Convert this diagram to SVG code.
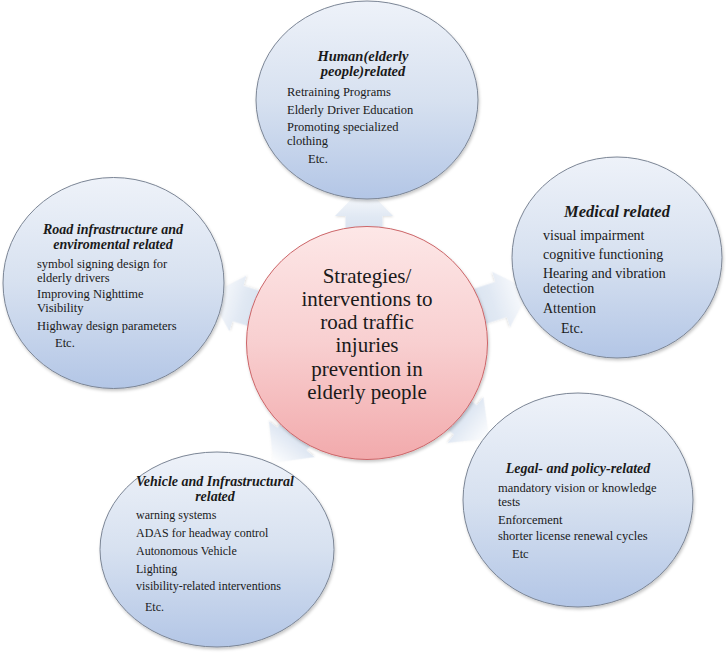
<svg xmlns="http://www.w3.org/2000/svg" width="726" height="654" viewBox="0 0 726 654">
<defs>
<linearGradient id="gBlue" x1="0" y1="0" x2="0" y2="1">
<stop offset="0" stop-color="#eef2f9"/>
<stop offset="0.5" stop-color="#d7e1f0"/>
<stop offset="1" stop-color="#b3c6e6"/>
</linearGradient>
<linearGradient id="gPink" x1="0" y1="0" x2="0" y2="1">
<stop offset="0" stop-color="#fde7e7"/>
<stop offset="0.5" stop-color="#f8cfd0"/>
<stop offset="1" stop-color="#f2aaac"/>
</linearGradient>
<linearGradient id="gArrow" x1="0" y1="1" x2="0" y2="0">
<stop offset="0" stop-color="#d5dfee"/>
<stop offset="0.45" stop-color="#e0e8f3"/>
<stop offset="1" stop-color="#ffffff"/>
</linearGradient>
<filter id="sh" x="-10%" y="-10%" width="125%" height="125%">
<feDropShadow dx="1" dy="2" stdDeviation="1.5" flood-color="#000" flood-opacity="0.22"/>
</filter>
<filter id="shA" x="-20%" y="-20%" width="140%" height="140%">
<feDropShadow dx="0.5" dy="1" stdDeviation="1" flood-color="#000" flood-opacity="0.12"/>
</filter>
</defs>
<style>
.sat{fill:url(#gBlue);stroke:#7b8595;stroke-width:1;filter:url(#sh)}
.ctr{fill:url(#gPink);stroke:#cc6568;stroke-width:1;filter:url(#sh)}
.arr{fill:url(#gArrow);stroke:none;filter:url(#shA)}
.t{font-family:"Liberation Serif","Times New Roman",serif;fill:#1a1a1a}
.h{font-weight:bold;font-style:italic;text-anchor:middle}
.b{font-size:12.5px}
.c{font-size:21px;text-anchor:middle}
</style>
<rect width="726" height="654" fill="#ffffff"/>

<g id="connectors">
<polygon class="arr" transform="translate(364,343)" points="-18.5,-100 -18.5,-127 -29,-127 0,-157 29,-127 18.5,-127 18.5,-100"/>
<polygon class="arr" transform="translate(367,343) rotate(72)" points="-18.5,-100 -18.5,-141 -29,-141 0,-171 29,-141 18.5,-141 18.5,-100"/>
<polygon class="arr" transform="translate(367,343) rotate(128)" points="-18.5,-100 -18.5,-125 -29,-125 0,-155 29,-125 18.5,-125 18.5,-100"/>
<polygon class="arr" transform="translate(367,343) rotate(218)" points="-18.5,-100 -18.5,-122 -29,-122 0,-152 29,-122 18.5,-122 18.5,-100"/>
<polygon class="arr" transform="translate(367,343) rotate(287)" points="-18.5,-100 -18.5,-135 -29,-135 0,-165 29,-135 18.5,-135 18.5,-100"/>
</g>

<g id="node-human">
<ellipse class="sat" cx="367" cy="100" rx="111" ry="99"/>
<text class="t h" font-size="14.5" x="363" y="60.5">Human(elderly</text>
<text class="t h" font-size="14.5" x="363" y="76">people)related</text>
<text class="t b" x="287" y="95.5">Retraining  Programs</text>
<text class="t b" x="287" y="114">Elderly Driver Education</text>
<text class="t b" x="287" y="130.5">Promoting specialized</text>
<text class="t b" x="287" y="144.5">clothing</text>
<text class="t b" x="308" y="162.5">Etc.</text>
</g>

<g id="node-road">
<ellipse class="sat" cx="113.5" cy="283" rx="110.5" ry="105.5"/>
<text class="t h" font-size="14" x="113" y="233.5">Road infrastructure and</text>
<text class="t h" font-size="14" x="113" y="248.5">enviromental related</text>
<text class="t b" x="37" y="268">symbol signing design for</text>
<text class="t b" x="37" y="282">elderly drivers</text>
<text class="t b" x="37" y="298">Improving Nighttime</text>
<text class="t b" x="37" y="312">Visibility</text>
<text class="t b" x="37" y="329.5">Highway design parameters</text>
<text class="t b" x="55" y="347">Etc.</text>
</g>

<g id="node-medical">
<ellipse class="sat" cx="617" cy="257.5" rx="105" ry="100.5"/>
<text class="t h" font-size="16.5" x="617" y="217">Medical related</text>
<text class="t" font-size="14" x="543" y="240">visual impairment</text>
<text class="t" font-size="14" x="543" y="259">cognitive functioning</text>
<text class="t" font-size="14" x="543" y="277.5">Hearing and vibration</text>
<text class="t" font-size="14" x="543" y="292.5">detection</text>
<text class="t" font-size="14" x="543" y="313">Attention</text>
<text class="t" font-size="14" x="561" y="333">Etc.</text>
</g>

<g id="node-vehicle">
<ellipse class="sat" cx="217" cy="549.5" rx="117" ry="97.5"/>
<text class="t h" font-size="14" x="215" y="485.5">Vehicle and Infrastructural</text>
<text class="t h" font-size="14" x="215" y="500.5">related</text>
<text class="t" font-size="12" x="136" y="518.5">warning systems</text>
<text class="t" font-size="12" x="136" y="536.5">ADAS for headway control</text>
<text class="t" font-size="12" x="136" y="555">Autonomous Vehicle</text>
<text class="t" font-size="12" x="136" y="572.5">Lighting</text>
<text class="t" font-size="12" x="136" y="590">visibility-related interventions</text>
<text class="t" font-size="12" x="145" y="610.5">Etc.</text>
</g>

<g id="node-legal">
<ellipse class="sat" cx="578" cy="500" rx="115" ry="107"/>
<text class="t h" font-size="14" x="578" y="473">Legal- and policy-related</text>
<text class="t b" x="498" y="492">mandatory vision or knowledge</text>
<text class="t b" x="498" y="506">tests</text>
<text class="t b" x="498" y="523.5">Enforcement</text>
<text class="t b" x="498" y="540">shorter license renewal cycles</text>
<text class="t b" x="512" y="558">Etc</text>
</g>

<g id="node-center">
<ellipse class="ctr" cx="367" cy="343" rx="120.5" ry="116.5"/>
<text class="t c" x="367" y="282.5">Strategies/</text>
<text class="t c" x="367" y="305.8">interventions to</text>
<text class="t c" x="367" y="329.1">road traffic</text>
<text class="t c" x="367" y="352.4">injuries</text>
<text class="t c" x="367" y="375.7">prevention in</text>
<text class="t c" x="367" y="399">elderly people</text>
</g>
</svg>
